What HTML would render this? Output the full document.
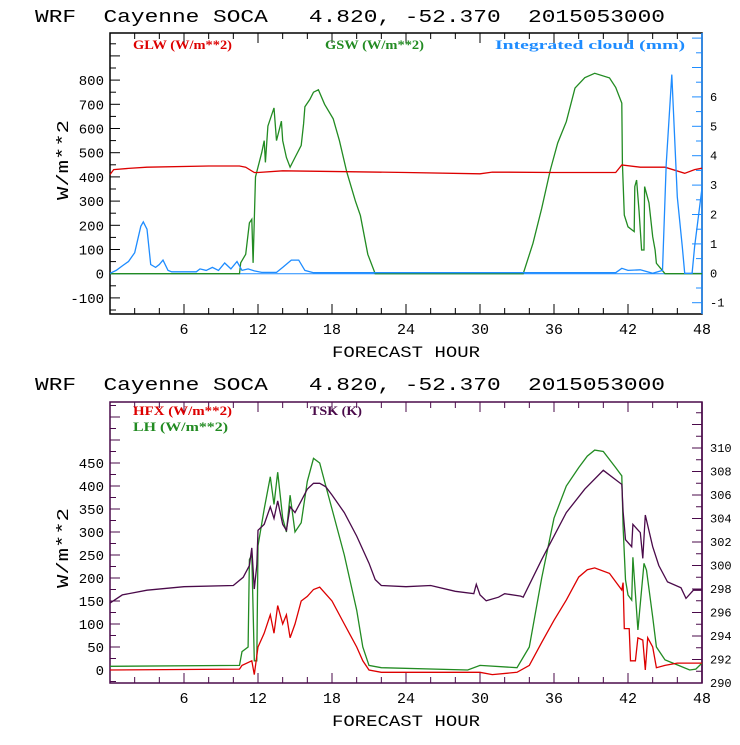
<!DOCTYPE html>
<html><head><meta charset="utf-8"><style>
body{margin:0;background:#fff;}
svg text{font-family:"Liberation Mono",monospace;}
.lg{font-family:"Liberation Serif",serif;font-size:13px;font-weight:bold;}
</style></head><body>
<svg id="s" width="740" height="740" viewBox="0 0 740 740" xmlns="http://www.w3.org/2000/svg">
<rect width="740" height="740" fill="#fff"/>
</svg>
<script>
// ---- data: top chart ----
const glwH=[0,0.3,1.5,3,8,10.5,11,11.7,12,14,17,24,30,31,36,41,41.5,43,45,46.6,47.4,48];
const glwV=[410,430,435,440,445,445,440,418,418,425,423,418,413,420,418,418,449,440,440,415,430,436];
const gswH=[0,10.5,10.6,11.0,11.3,11.5,11.6,11.8,12.3,12.5,12.6,12.8,13.3,13.5,13.9,14.0,14.3,14.6,15.0,15.5,15.7,15.8,16.2,16.5,16.9,17.4,18.1,18.6,19.2,19.9,20.3,20.9,21.5,33.5,34.3,35.0,35.7,36.3,37.0,37.7,38.5,39.3,40.5,41.0,41.5,41.55,41.7,42.0,42.5,42.55,42.7,42.9,43.1,43.3,43.35,43.7,44.0,44.2,44.3,45.0,48];
const gswV=[0,0,45,80,210,225,45,400,500,550,460,610,685,550,630,550,480,440,480,530,620,690,720,750,760,700,640,550,420,300,240,80,0,0,126,270,428,540,628,767,810,828,809,770,705,457,242,194,174,360,387,256,98,98,360,292,153,98,43,0,0];
const cldH=[0,0.5,1,1.5,2,2.5,2.7,3,3.3,3.7,4,4.3,4.7,5,7,7.3,7.8,8.3,8.8,9.3,9.8,10.3,10.7,11.2,11.7,12.3,13.5,14,14.7,15.3,15.8,16.5,41,41.5,42,43,44,44.8,45.1,45.55,46.0,46.4,46.6,47.2,47.4,48];
const cldV=[0,0.1,0.25,0.4,0.7,1.6,1.75,1.5,0.3,0.2,0.3,0.45,0.1,0.05,0.05,0.15,0.1,0.2,0.1,0.35,0.15,0.4,0.1,0.15,0.08,0.03,0.03,0.2,0.45,0.45,0.1,0.02,0.02,0.17,0.1,0.12,0,0.1,3.7,6.76,2.6,0.9,0,0,0.9,2.9];
// ---- data: bottom chart ----
const hfxH=[0,10.5,10.7,11.5,11.7,12,12.5,13,13.3,13.6,14,14.3,14.6,15,15.5,16,16.5,17,18,19,20,20.5,21,22,30,31,33,34,35,36,37,38,38.7,39.3,40.5,41.5,41.6,41.7,42.1,42.2,42.6,42.8,43.2,43.4,43.6,44,44.3,45,46,48];
const hfxV=[0,2,10,20,-10,50,80,120,80,140,100,120,70,100,150,160,175,180,150,100,50,20,0,-5,-5,-10,-5,10,60,108,152,202,218,222,210,174,190,90,90,20,20,70,65,0,70,50,5,10,15,15];
const lhH=[0,10.5,10.7,11.2,11.3,11.5,11.7,11.9,12,12.5,13,13.3,13.6,14,14.3,14.6,15,15.5,16,16.5,17,17.5,18,19,20,20.5,21,22,29,30,33,34,35,36,37,38,38.7,39.3,40,41,41.5,41.6,41.8,42,42.3,42.4,42.8,43.3,43.5,44,44.3,45,46,47,47.5,48];
const lhV=[8,10,40,50,240,250,20,20,270,350,420,360,430,330,300,380,300,320,410,460,450,400,350,250,130,50,10,5,0,10,5,50,200,330,400,440,465,478,475,440,422,311,196,163,152,245,87,232,217,115,50,22,11,0,2,15];
const tskH=[0,1,3,6,10,10.8,11.3,11.5,11.7,11.9,12,12.5,13,13.3,13.6,14,14.3,14.6,15,15.5,16,16.5,17,17.5,18,19,20,21,21.5,22,24,26,28,29.5,29.7,30,30.5,31.5,32,33.3,33.5,35,36,37,38.5,40,41.5,41.6,41.8,42.3,42.4,43,43.2,43.4,44,44.5,45.2,46.3,46.7,47.3,48];
const tskV=[296.8,297.5,297.9,298.2,298.3,299,300,301.5,298,300,303,303.5,305,304,305.5,303.5,303,305,304.5,305.5,306.5,307,307,306.7,306,304.5,302.5,300.2,298.8,298.3,298.2,298.3,297.8,297.6,298.4,297.5,297,297.3,297.6,297.4,297.3,300.5,302.5,304.5,306.5,308.1,306.9,304.6,302.2,301.6,303.5,302.8,300.6,304.3,301.6,300,298.6,298.1,297.2,297.9,297.9];

const NS='http://www.w3.org/2000/svg', svg=document.getElementById('s');
function el(t,a,txt){const e=document.createElementNS(NS,t);for(const k in a)e.setAttribute(k,a[k]);if(txt!==undefined)e.textContent=txt;svg.appendChild(e);return e;}
const X0=110,X1=702;
const xs=h=>X0+(X1-X0)*h/48;
const yT=v=>273.7-v*0.242;
const yC=v=>273.3-v*29.4;
const yB=v=>670-v*0.46;
const yK=v=>683-(v-290)*11.75;

function title(y,nm){
  const t=el('text',{x:35,y:y,'font-size':18,textLength:630,lengthAdjust:'spacingAndGlyphs',style:'white-space:pre;font-weight:normal'},'WRF  Cayenne SOCA   4.820, -52.370  2015053000');
  t.setAttribute('xml:space','preserve');
  
}
function frame(top,bot,col,rcol,nm){
  const r=el('rect',{x:X0,y:top,width:X1-X0,height:bot-top,fill:'none',stroke:col,'stroke-width':1.5});
  
  el('line',{x1:X1,y1:top,x2:X1,y2:bot,stroke:rcol,'stroke-width':1.5});
  for(let h=2;h<48;h+=2){const L=(h%6==0)?10:6;
    el('line',{x1:xs(h),y1:bot,x2:xs(h),y2:bot-L,stroke:col});
    el('line',{x1:xs(h),y1:top,x2:xs(h),y2:top+L,stroke:col});}
  for(let h=6;h<=48;h+=6){const t=el('text',{x:xs(h),y:bot+20,'font-size':15,'text-anchor':'middle'},String(h));
    }
  const xt=el('text',{x:406,y:bot+43,'font-size':16,'text-anchor':'middle',textLength:148,lengthAdjust:'spacingAndGlyphs'},'FORECAST HOUR');
  
}
function yaxis(scale,top,bot,minor,major,from,to,labMin,labMax,side,col){
  for(let v=from;v<=to+1e-9;v+=minor){const y=scale(v);if(y<top||y>bot)continue;
    const isM=Math.abs(v/major-Math.round(v/major))<1e-6;const L=isM?10:6;
    if(side=='l')el('line',{x1:X0,y1:y,x2:X0+L,y2:y,stroke:col});
    else el('line',{x1:X1,y1:y,x2:X1-L,y2:y,stroke:col});
    if(isM&&v>=labMin-1e-9&&v<=labMax+1e-9){
      const t=el('text',side=='l'?{x:X0-6,y:y+5,'font-size':14,'text-anchor':'end'}:{x:X1+8,y:y+4,'font-size':12},String(Math.round(v*100)/100));
      }
  }
}
function ytitle(cy,nm){const t=el('text',{x:0,y:0,'font-size':17,'text-anchor':'middle',transform:`translate(68,${cy}) rotate(-90)`,textLength:80,lengthAdjust:'spacingAndGlyphs'},'W/m**2');
  }
function series(H,V,ys,col,nm){
  const p=H.map((h,i)=>xs(h).toFixed(1)+','+ys(V[i]).toFixed(1)).join(' ');
  const e=el('polyline',{points:p,fill:'none',stroke:col,'stroke-width':1.3});
  
}
function legend(x,y,col,txt,w,nm){const t=el('text',{x:x,y:y,fill:col,class:'lg',textLength:w,lengthAdjust:'spacingAndGlyphs'},txt);
  }

const RED='#dd0000',GRN='#228b22',BLU='#1e8cff',PUR='#4a0a4a';
// TOP
title(22,'top-title');
frame(33,314,'#000',BLU,'top-plot-frame');
yaxis(yT,33,314,50,100,-150,1000,-100,800,'l','#000');
yaxis(yC,33,314,0.5,1,-1.5,8,-1,6,'r',BLU);
ytitle(160,'top-y-axis-title');
el('line',{x1:X0,y1:yT(0),x2:X1,y2:yT(0),stroke:BLU,'stroke-width':1});
series(gswH,gswV,yT,GRN,'gsw-line');
series(glwH,glwV,yT,RED,'glw-line');
series(cldH,cldV,yC,BLU,'cloud-line');
legend(133,49,RED,'GLW (W/m**2)',99,'legend-glw');
legend(325,49,GRN,'GSW (W/m**2)',99,'legend-gsw');
legend(495,49,BLU,'Integrated cloud (mm)',190,'legend-cloud');
// BOTTOM
title(390,'bottom-title');
frame(402,683,PUR,PUR,'bottom-plot-frame');
yaxis(yB,402,683,25,50,-25,600,0,450,'l',PUR);
yaxis(yK,402,683,1,2,290,313,290,310,'r',PUR);
ytitle(548,'bottom-y-axis-title');
series(lhH,lhV,yB,GRN,'lh-line');
series(hfxH,hfxV,yB,RED,'hfx-line');
series(tskH,tskV,yK,PUR,'tsk-line');
legend(133,415,RED,'HFX (W/m**2)',99,'legend-hfx');
legend(133,431,GRN,'LH  (W/m**2)',95,'legend-lh');
legend(310,415,PUR,'TSK (K)',52,'legend-tsk');
</script>
</body></html>
